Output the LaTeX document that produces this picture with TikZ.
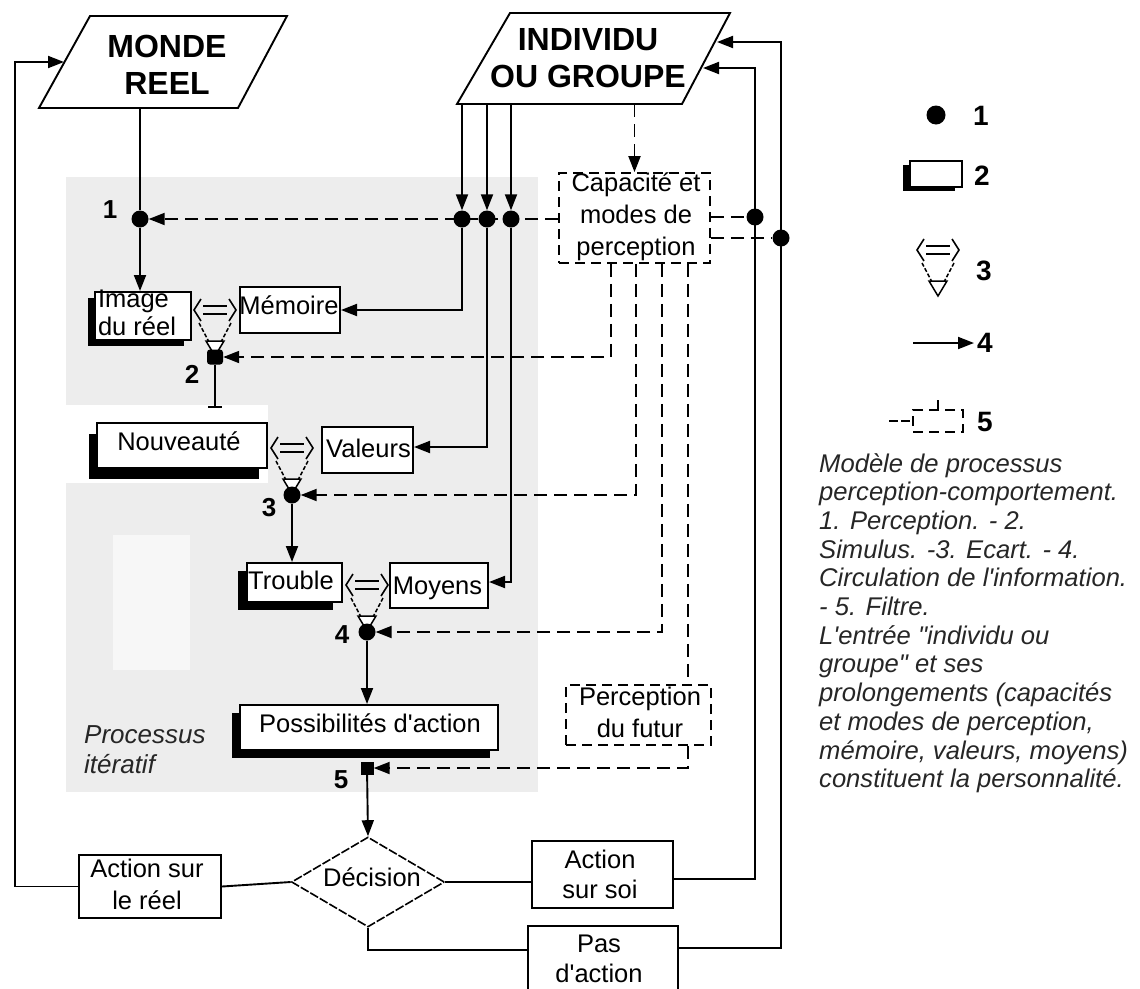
\documentclass[tikz,border=0pt]{standalone}
\usepackage{fontspec}
\setmainfont{Liberation Sans}[Ligatures=TeXOff]
\usetikzlibrary{arrows.meta,shapes.geometric,shadows}
\pgfdeclarelayer{bgl}
\pgfdeclarelayer{fgl}
\pgfsetlayers{bgl,main,fgl}
\newcommand\fsz[2]{\fontsize{#1}{#2}\selectfont}
\begin{document}
\begin{tikzpicture}[x=1pt,y=-1pt,
  ln/.style={line width=1.9pt},
  tip/.style={-{Triangle[length=16pt,width=12pt]}},
  arr/.style={ln,tip},
  dsh/.style={ln,dash pattern=on 13pt off 7pt},
  darr/.style={dsh,tip},
  bx/.style={draw,rectangle,line width=2pt,fill=white,inner sep=0pt},
  sbx/.style 2 args={bx,drop shadow={fill=black,opacity=1,shadow xshift=#1,shadow yshift=#2}},
  dbx/.style={draw,rectangle,line width=1.8pt,dash pattern=on 10pt off 6pt,fill=white,inner sep=0pt},
  tx/.style={inner sep=0pt,align=center,font=\fsz{25.5}{30}},
  big/.style={inner sep=0pt,align=center,font=\fsz{32}{37}\bfseries},
  num/.style={inner sep=0pt,font=\fsz{26}{30}\bfseries},
  lnum/.style={inner sep=0pt,font=\fsz{28}{30}\bfseries},
  captx/.style={inner sep=0pt,anchor=base west,text=black!85,font=\fsz{25.6}{29}\itshape},
  dotn/.style={circle,fill=black,inner sep=0pt,minimum size=17pt},
  filt/.pic={
    \draw[line width=1.6pt] (-14,-58) -- (-21,-47) -- (-14,-36);
    \draw[line width=1.6pt] (14,-58) -- (21,-47) -- (14,-36);
    \draw[line width=1.6pt] (-12,-51) -- (12,-51) (-12,-43) -- (12,-43);
    \draw[line width=1.5pt,dash pattern=on 4pt off 2pt] (-16,-34) -- (-6,-15) (16,-34) -- (6,-15);
    \draw[line width=1.5pt,fill=white] (-9,-16) -- (9,-16) -- (0,-1) -- cycle;
  }
]
\useasboundingbox (0,0) rectangle (1140,988);
\clip (0,0) rectangle (1140,988);

% shaded iterative area
\begin{pgfonlayer}{bgl}
  \fill[black!7] (66,177) rectangle (538,792);
  \fill[white] (66,405) rectangle (268,483);
  \fill[black!3] (113,535) rectangle (190,670);
\end{pgfonlayer}

% parallelograms
\draw[line width=1.9pt,fill=white] (90,16) -- (287,16) -- (238,108) -- (39,108) -- cycle;
\node[big] (monde) at (167,65) {MONDE\\REEL};
\draw[line width=1.9pt,fill=white] (510,13) -- (730,13) -- (682,104) -- (457,104) -- cycle;
\node[big] (indiv) at (588,58) {INDIVIDU\\OU GROUPE};
\coordinate (mondeB) at (140,108);
\coordinate (mondeL) at (64,62);
\coordinate (indB) at (570,104);
\coordinate (indR1) at (717,42);
\coordinate (indR2) at (703,68);
\coordinate (c1) at (755,68);
\coordinate (c2) at (781,42);
\coordinate (lc) at (15,62);

% boxes
\node[sbx={-7pt}{-6pt},minimum width=96pt,minimum height=48pt] (img) at (143,316) {};
\node[bx,minimum width=100pt,minimum height=46pt] (mem) at (290,310) {};
\node[sbx={-8pt}{-11pt},minimum width=170pt,minimum height=45pt] (nou) at (182,445.5) {};
\node[bx,minimum width=91pt,minimum height=46pt] (val) at (367.5,450) {};
\node[sbx={-9pt}{-8pt},minimum width=95pt,minimum height=39pt] (tro) at (294.5,582.5) {};
\node[bx,minimum width=98pt,minimum height=45pt] (moy) at (439,585.5) {};
\node[sbx={-8pt}{-8pt},minimum width=258pt,minimum height=45pt] (pos) at (369,727.5) {};
\node[dbx,minimum width=151pt,minimum height=90pt] (capa) at (634.5,218) {};
\node[dbx,minimum width=145pt,minimum height=60pt] (pf) at (638.5,715) {};
\node[bx,minimum width=142pt,minimum height=63pt] (arl) at (150,886.5) {};
\node[bx,minimum width=141pt,minimum height=67pt] (aso) at (602.5,874.5) {};
\node[bx,minimum width=150pt,minimum height=74pt] (pas) at (603,963) {};
\node[diamond,draw,line width=1.6pt,dash pattern=on 9pt off 2pt,fill=white,inner sep=0pt,minimum width=153pt,minimum height=90pt] (dec) at (368,882) {};

% box texts
\node[tx,align=left,font=\fsz{25.5}{28}] (imgT) at (137,313) {Image\\du réel};
\node[tx] (memT) at (289,305) {Mémoire};
\node[tx] (nouT) at (179,441) {Nouveauté};
\node[tx] (valT) at (368.5,448) {Valeurs};
\node[tx] (troT) at (291,580) {Trouble};
\node[tx] (moyT) at (437.5,588.5) {Moyens};
\node[tx] (posT) at (370,723) {Possibilités d'action};
\node[tx,font=\fsz{25.5}{32}] (capaT) at (636,217) {Capacité et\\modes de\\perception};
\node[tx,font=\fsz{25.5}{32}] (pfT) at (640,712) {Perception\\du futur};
\node[tx,font=\fsz{25.5}{32}] (arlT) at (147,884.5) {Action sur\\le réel};
\node[tx] (asoT) at (600,874.5) {Action\\sur soi};
\node[tx] (pasT) at (599,958.5) {Pas\\d'action};
\node[tx] (decT) at (372,877) {Décision};

% iterative label
\node[captx,font=\fsz{26}{30}\itshape] (it1) at (84,743) {Processus};
\node[captx,font=\fsz{26}{30}\itshape] (it2) at (84,773) {itératif};

% number labels
\node[num] (n1) at (110,210) {1};
\node[num] (n2) at (192,374) {2};
\node[num] (n3) at (269,508) {3};
\node[num] (n4) at (342,635) {4};
\node[num] (n5) at (341,780) {5};

% filters
\pic at (215,357) {filt};
\pic at (292,495) {filt};
\pic at (367,632) {filt};

% dots
\begin{pgfonlayer}{fgl}
  \node[dotn] (d1) at (140,219) {};
  \node[dotn,rectangle,rounded corners=3pt,minimum width=16pt,minimum height=15pt] (d2) at (215,357) {};
  \node[dotn] (d3) at (292,495) {};
  \node[dotn] (d4) at (367,632) {};
  \node[dotn,rectangle,minimum size=13pt] (d5) at (367,768) {};
  \node[dotn] (i1) at (462,219) {};
  \node[dotn] (i2) at (487,219) {};
  \node[dotn] (i3) at (511,219) {};
  \node[dotn] (r1) at (755,217) {};
  \node[dotn] (r2) at (781,238) {};
\end{pgfonlayer}

% connectors
\draw[ln] (mondeB) -- (d1);
\draw[arr] (d1) -- (d1 |- img.north);
\draw[darr] (capa.west |- d1) -- (d1);
\foreach \n in {i1,i2,i3} \draw[arr] (\n |- indB) -- (\n);
\draw[arr] (i1) |- (mem.east);
\draw[arr] (i2) |- ([yshift=3pt]val.east);
\draw[arr] (i3) |- ([yshift=3.5pt]moy.east);
\draw[darr] (capa.north |- indB) -- (capa.north);
\draw[dsh] (capa.east |- r1) -- (r1);
\draw[dsh] (capa.east |- r2) -- (r2);
\draw[darr] ([xshift=-23.5pt]capa.south) |- (d2);
\draw[darr] ([xshift=1.5pt]capa.south) |- (d3);
\draw[darr] ([xshift=27.5pt]capa.south) |- (d4);
\draw[dsh] ([xshift=53.5pt]capa.south) -- ([xshift=49.5pt]pf.north);
\draw[darr] ([xshift=49.5pt]pf.south) |- (d5);
\coordinate (tee) at (215,407);
\draw[ln] (d2) -- (tee);
\draw[ln] ([xshift=-7pt]tee) -- ([xshift=7pt]tee);
\draw[arr] (d3) -- (d3 |- tro.north);
\draw[arr] (d4) -- (d4 |- pos.north);
\draw[arr] (d5) -- (dec.north);
\draw[ln] (arl.east) -- (dec.west);
\draw[ln] (dec.east) -- (aso.west |- dec.east);
\draw[ln] (dec.south) |- ([yshift=13pt]pas.west);
\draw[arr] (arl.west) -| (lc) -- (mondeL);
\draw[arr] ([yshift=-4.5pt]aso.east) -| (c1) -- (indR2);
\draw[arr] ([yshift=15pt]pas.east) -| (c2) -- (indR1);

% legend
\node[dotn,minimum size=19pt] (lg1) at (936,115) {};
\node[lnum] (l1) at (981,116) {1};
\node[sbx={-7pt}{-4pt},minimum width=52pt,minimum height=26pt] (lg2) at (936,174) {};
\node[lnum] (l2) at (982,176) {2};
\pic at (938,297) {filt};
\node[lnum] (l3) at (984,271) {3};
\coordinate (lg4a) at (913,343);
\coordinate (lg4b) at (974,343);
\draw[arr] (lg4a) -- (lg4b);
\node[lnum] (l4) at (985,343) {4};
\node[dbx,minimum width=50pt,minimum height=22pt] (lg5) at (938,421) {};
\draw[ln,dash pattern=on 9pt off 3pt] ([xshift=-23pt]lg5.west) -- (lg5.west);
\draw[ln] (lg5.north) -- ([yshift=9pt]lg5.north);
\node[lnum] (l5) at (985,422) {5};

% caption
\foreach \t [count=\i] in {{Modèle de processus},{perception-comportement.},{1. Perception. - 2.},{Simulus. -3. Ecart. - 4.},{Circulation de l'information.},{- 5. Filtre.},{L'entrée "individu ou},{groupe" et ses},{prolongements (capacités},{et modes de perception,},{mémoire, valeurs, moyens)},{constituent la personnalité.}}
  \node[captx] (cap\i) at (819,{472+28.7*(\i-1)}) {\t};
\end{tikzpicture}
\end{document}
